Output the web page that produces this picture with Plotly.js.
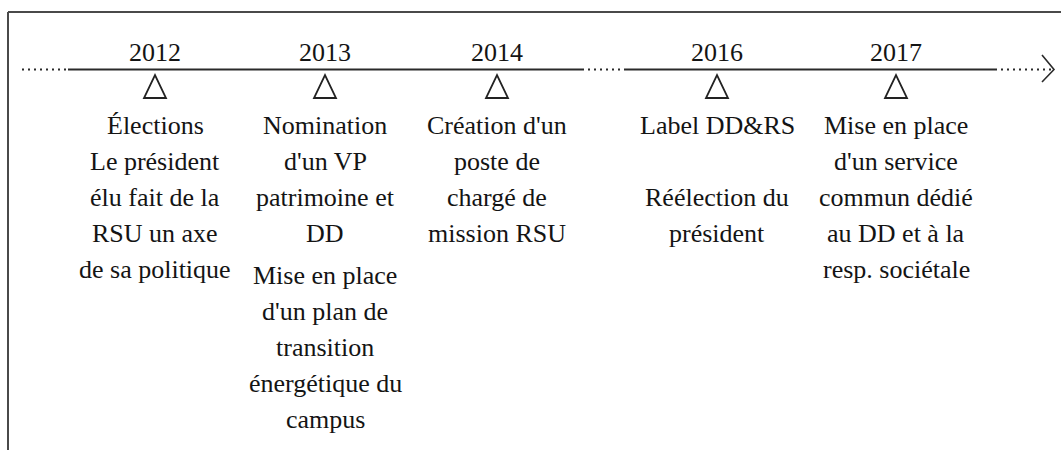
<!DOCTYPE html>
<html>
<head>
<meta charset="utf-8">
<script src="https://cdn.plot.ly/plotly-3.0.1.min.js"></script>
<style>html,body{margin:0;padding:0;background:#fff;}#chart{width:1061px;height:450px;}</style>
</head>
<body>
<div id="chart"></div>
<script>
// ---- data ----
const years = ['2012', '2013', '2014', '2016', '2017'];
// each event: list of paragraphs, each paragraph a list of lines ('' = blank line)
const events2012 = [['Élections', 'Le président', 'élu fait de la', 'RSU un axe', 'de sa politique']];
const events2013 = [['Nomination', "d'un VP", 'patrimoine et', 'DD'],
                    ['Mise en place', "d'un plan de", 'transition', 'énergétique du', 'campus']];
const events2014 = [["Création d'un", 'poste de', 'chargé de', 'mission RSU']];
const events2016 = [['Label DD&RS', '', 'Réélection du', 'président']];
const events2017 = [['Mise en place', "d'un service", 'commun dédié', 'au DD et à la', 'resp. sociétale']];
const events = [events2012, events2013, events2014, events2016, events2017];

// ---- layout (pixel space) ----
const W = 1061, H = 450;
const colX = [155, 325, 497, 717, 896];
const lineY = 69.5;
const yearY = 52;
const firstLineY = 125;
const lineStep = 36;
const paraGap = 6;
const FONT = 'Liberation Serif';
const INK = '#141414';

const shapes = [];
const annotations = [];

// frame (top and left edges)
shapes.push({type: 'line', x0: 8, x1: W, y0: 12, y1: 12, line: {color: '#4a4a4a', width: 2}});
shapes.push({type: 'line', x0: 8, x1: 8, y0: 12, y1: H, line: {color: '#4a4a4a', width: 2}});

// timeline segments: dotted / solid / dotted / solid / dotted
const segs = [[22, 68, 'dot'], [68, 582, 'solid'], [582, 626, 'dot'], [626, 995, 'solid'], [995, 1052, 'dot']];
segs.forEach(s => {
  shapes.push({type: 'line', x0: s[0], x1: s[1], y0: lineY, y1: lineY,
    line: {color: '#2a2a2a', width: 2, dash: s[2] === 'dot' ? '2px,4px' : 'solid'}});
});
// arrow head (chevron)
shapes.push({type: 'path', path: `M 1042 55 L 1054 ${lineY} L 1042 82`, line: {color: '#2a2a2a', width: 1.6}});

years.forEach((yr, i) => {
  const cx = colX[i];
  annotations.push({x: cx, y: yearY, text: yr, showarrow: false, xanchor: 'center', yanchor: 'middle',
    font: {family: FONT, size: 26, color: INK}});
  // open triangle marker
  shapes.push({type: 'path', path: `M ${cx - 11} 98 L ${cx + 11} 98 L ${cx} 75 Z`,
    line: {color: '#222', width: 1.8}, fillcolor: 'rgba(0,0,0,0)'});
  let y = firstLineY;
  events[i].forEach((para, p) => {
    if (p > 0) y += paraGap;
    para.forEach(line => {
      if (line !== '') {
        annotations.push({x: cx, y: y, text: line, showarrow: false, xanchor: 'center', yanchor: 'middle',
          font: {family: FONT, size: 26, color: INK}});
      }
      y += lineStep;
    });
  });
});

const layout = {
  width: W, height: H,
  margin: {l: 0, r: 0, t: 0, b: 0},
  paper_bgcolor: '#fff', plot_bgcolor: '#fff',
  font: {family: FONT},
  xaxis: {range: [0, W], visible: false, fixedrange: true},
  yaxis: {range: [H, 0], visible: false, fixedrange: true},
  shapes: shapes,
  annotations: annotations,
  showlegend: false
};
Plotly.newPlot('chart', [{x: [], y: [], type: 'scatter'}], layout, {displayModeBar: false, staticPlot: true});
</script>
</body>
</html>
